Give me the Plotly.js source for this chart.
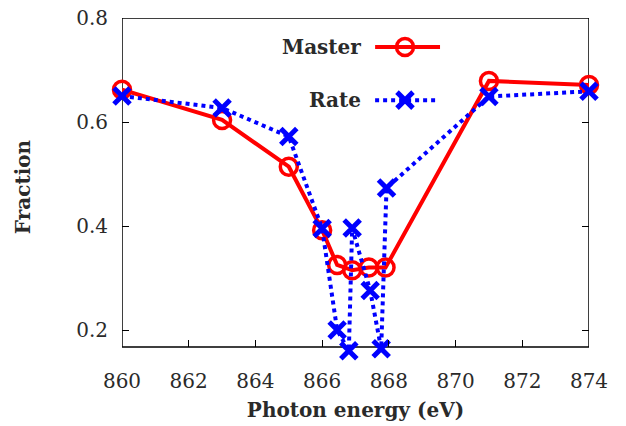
<!DOCTYPE html>
<html><head><meta charset="utf-8">
<script src="https://cdn.plot.ly/plotly-3.0.1.min.js"></script>
<style>html,body{margin:0;padding:0;background:#fff}#chart{width:626px;height:426px}</style>
</head><body><div id="chart"></div>
<script>
const masterX = [860, 863, 865, 866, 866.45, 866.9, 867.4, 867.9, 871, 874];
const masterY = [0.662, 0.604, 0.514, 0.392, 0.325, 0.315, 0.32, 0.32, 0.679, 0.671];
const rateX = [860, 863, 865, 866, 866.45, 866.8, 866.9, 867.44, 867.77, 867.93, 871, 874];
const rateY = [0.650, 0.627, 0.572, 0.395, 0.200, 0.160, 0.396, 0.276, 0.164, 0.473, 0.649, 0.659];
const xTicks = [860, 862, 864, 866, 868, 870, 872, 874];
const yTicks = [0.2, 0.4, 0.6, 0.8];
const legendNames = ["Master", "Rate"];

const serif = "DejaVu Serif";
const txt = "#2a2a2a";
const FS = 20;
const TS = 20;

const xRange = [860, 874];
const yFrame = [0.1675, 0.8];
const yRange = [0.15, 0.8];
const xPos = (yFrame[0] - yRange[0]) / (yRange[1] - yRange[0]);

const masterStyle = {color: "#ff0000", width: 4, dash: "solid"};
const rateStyle = {color: "#0000ff", width: 4, dash: "dot"};
const masterMarker = {symbol: "circle-open", size: 17, color: "#ff0000", line: {width: 3.5, color: "#ff0000"}};
const rateMarker = {symbol: "x-thin-open", size: 16, color: "#0000ff", line: {width: 5, color: "#0000ff"}};

const traces = [
  {x: masterX, y: masterY, mode: "lines+markers", line: masterStyle, marker: masterMarker, cliponaxis: false, showlegend: false, hoverinfo: "skip"},
  {x: rateX, y: rateY, mode: "lines+markers", line: rateStyle, marker: rateMarker, cliponaxis: false, showlegend: false, hoverinfo: "skip"},
  // legend samples on an overlay axis
  {x: [0.542, 0.681], y: [0.914, 0.914], xaxis: "x2", yaxis: "y2", mode: "lines", line: masterStyle, showlegend: false, hoverinfo: "skip"},
  {x: [0.606], y: [0.914], xaxis: "x2", yaxis: "y2", mode: "markers", marker: masterMarker, showlegend: false, hoverinfo: "skip"},
  {x: [0.542, 0.675], y: [0.757, 0.757], xaxis: "x2", yaxis: "y2", mode: "lines", line: rateStyle, showlegend: false, hoverinfo: "skip"},
  {x: [0.606], y: [0.757], xaxis: "x2", yaxis: "y2", mode: "markers", marker: rateMarker, showlegend: false, hoverinfo: "skip"}
];

const tickStyle = {ticks: "inside", ticklen: 7, tickwidth: 1, tickcolor: "#000", showgrid: false, zeroline: false};

const layout = {
  width: 626, height: 426,
  margin: {l: 122, r: 37, t: 18, b: 70},
  paper_bgcolor: "#fff", plot_bgcolor: "rgba(0,0,0,0)",
  font: {family: serif, size: FS, color: txt},
  xaxis: Object.assign({
    range: xRange, tickvals: xTicks, ticktext: xTicks.map(String),
    anchor: "free", position: xPos, showline: false, ticklabelstandoff: 20,
    tickfont: {family: serif, size: FS, color: txt},
    title: {text: "<b>Photon energy (eV)</b>", font: {family: serif, size: TS, color: txt}, standoff: 11}
  }, tickStyle),
  xaxis3: Object.assign({
    range: xRange, tickvals: xTicks, overlaying: "x", side: "top", anchor: "y",
    showticklabels: false, showline: false
  }, tickStyle),
  yaxis: Object.assign({
    range: yRange, tickvals: yTicks, ticktext: yTicks.map(v => v.toFixed(1)),
    showline: true, linecolor: "rgba(0,0,0,0)", mirror: "ticks", ticklabelstandoff: 9,
    tickfont: {family: serif, size: FS, color: txt},
    title: {text: "<b>Fraction</b>", font: {family: serif, size: TS, color: txt}, standoff: 40}
  }, tickStyle),
  xaxis2: {overlaying: "x", range: [0, 1], visible: false, fixedrange: true},
  yaxis2: {overlaying: "y", range: [0, 1], visible: false, fixedrange: true},
  shapes: [
    {type: "rect", xref: "x", yref: "y", x0: xRange[0], x1: xRange[1], y0: yFrame[0], y1: yFrame[1],
     line: {color: "#000", width: 1.5}, fillcolor: "rgba(0,0,0,0)", layer: "below"}
  ],
  annotations: [
    {xref: "paper", yref: "paper", x: 0.515, y: 0.914, xanchor: "right", yanchor: "middle", showarrow: false,
     text: "<b>" + legendNames[0] + "</b>", font: {family: serif, size: TS, color: txt}},
    {xref: "paper", yref: "paper", x: 0.515, y: 0.757, xanchor: "right", yanchor: "middle", showarrow: false,
     text: "<b>" + legendNames[1] + "</b>", font: {family: serif, size: TS, color: txt}}
  ]
};

Plotly.newPlot("chart", traces, layout, {displayModeBar: false, staticPlot: true});
</script></body></html>
